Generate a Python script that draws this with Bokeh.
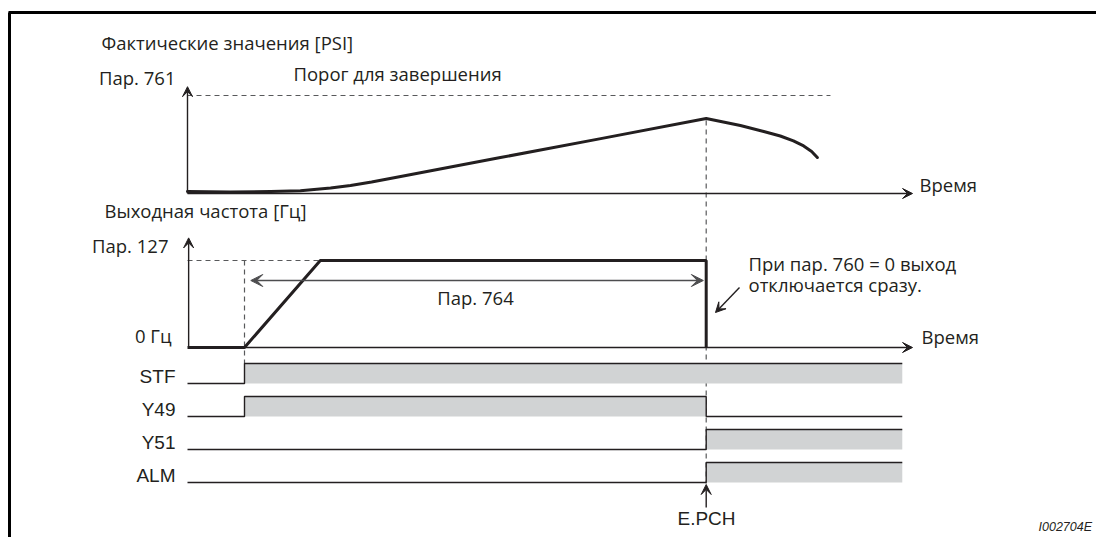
from bokeh.plotting import figure
from bokeh.models import Range1d, Arrow, VeeHead, Label
from bokeh.embed import file_html
from bokeh.resources import INLINE

# ---------------- data ----------------
# time in arbitrary units, 0 = origin of the time axes
t_run = 1.0            # STF on -> acceleration starts
t_accel_end = 2.33     # output frequency reaches Pr.127
t_trip = 9.1           # E.PCH trip
t_end = 12.54          # end of drawn signal traces
t_axis_end = 12.72     # tip of time axes
t_threshold_end = 11.28

# actual value (PSI, % of Pr.761)
psi_t = [0.0, 0.75, 1.46, 1.98, 2.51, 2.86, 3.23, 3.74, 5.49, 7.25, 9.1,
         9.70, 10.11, 10.40, 10.63, 10.81, 10.95, 11.05]
psi_v = [2.0, 1.5, 2.0, 2.9, 5.5, 8.2, 11.7, 17.3, 36.7, 56.0, 76.5,
         69.4, 63.3, 58.7, 53.6, 48.5, 42.9, 36.7]
psi_threshold = 100.0  # Pr.761

# output frequency (% of Pr.127)
freq_t = [0.0, t_run, t_accel_end, t_trip, t_trip]
freq_v = [0.0, 0.0, 100.0, 100.0, 0.0]
freq_max = 100.0

signal_names = ["STF", "Y49", "Y51", "ALM"]
signal_on = [t_run, t_run, t_trip, t_trip]
signal_off = [t_end, t_trip, t_end, t_end]

# ---------------- layout ----------------
W, H = 1096, 537
PX0, PY0 = 0, 0
PX1, PY1 = PX0 + W, PY0 + H

INK = "#231f20"
GREY = "#58595b"
FILL = "#d1d3d4"
RU = "Open Sans"
LAT = "Liberation Sans"
RU_SIZE = 18.5
LAT_SIZE = 19


def lin(v0, p0, v1, p1, a, b):
    k = (v1 - v0) / (p1 - p0)
    return Range1d(start=v0 + (a - p0) * k, end=v0 + (b - p0) * k)


p = figure(width=W, height=H, x_range=Range1d(PX0, PX1), y_range=Range1d(PY1, PY0),
           output_backend="svg", toolbar_location=None, min_border=0)
p.axis.visible = False
p.grid.visible = False
p.outline_line_color = None
p.background_fill_color = "white"
p.border_fill_color = "white"

p.extra_x_ranges = {"time": lin(0, 187, 1, 244, PX0, PX1)}
p.extra_y_ranges = {
    "psi": lin(0, 193, 100, 95, PY1, PY0),
    "freq": lin(0, 347, 100, 260, PY1, PY0),
}
sig_low = [383, 416, 449, 482]
for i, nm in enumerate(signal_names):
    p.extra_y_ranges["sig_" + nm] = lin(0, sig_low[i], 1, sig_low[i] - 20, PY1, PY0)

# frame
p.line([8, PX1], [12, 12], line_color="black", line_width=3)
p.line([9, 9], [12, PY1], line_color="black", line_width=3)


def arrow(x0, y0, x1, y1, size=10, color=INK, width=1.4, both=False, xr="default", yr="default"):
    head = lambda: VeeHead(size=size, fill_color=color, line_color=color, line_width=1)
    a = Arrow(end=head(), start=head() if both else None,
              x_start=x0, y_start=y0, x_end=x1, y_end=y1,
              line_color=color, line_width=width, x_range_name=xr, y_range_name=yr)
    p.add_layout(a)


DASH = dict(line_color=GREY, line_width=1.2, line_dash="5 4")

# guides (drawn first, under the data)
p.line([0, t_threshold_end], [psi_threshold, psi_threshold], x_range_name="time", y_range_name="psi", **DASH)
p.line([0, t_accel_end], [freq_max, freq_max], x_range_name="time", y_range_name="freq", **DASH)
p.line([t_run, t_run], [260, 363], x_range_name="time", **DASH)
p.line([t_trip, t_trip], [120, 483], x_range_name="time", **DASH)

# ---- top panel: actual values ----
arrow(0, 0, 0, 109, xr="time", yr="psi")
arrow(0, 0, t_axis_end, 0, xr="time", yr="psi")
p.line(psi_t, psi_v, x_range_name="time", y_range_name="psi", line_color=INK, line_width=3,
       line_join="round", line_cap="round")

# ---- middle panel: output frequency ----
arrow(0.02, 0, 0.02, 126, xr="time", yr="freq")
arrow(0.02, 0, t_axis_end, 0, xr="time", yr="freq")
p.line(freq_t, freq_v, x_range_name="time", y_range_name="freq", line_color=INK, line_width=3)

# Pr.764 double arrow
arrow(t_run + 0.11, 280, t_trip - 0.05, 280, size=12, color="#4d4d4f", width=1.6, both=True, xr="time")
arrow(739, 287, 715, 312, size=10, width=1.4)

# ---- signals ----
for i, nm in enumerate(signal_names):
    yr = "sig_" + nm
    on, off = signal_on[i], signal_off[i]
    xs = [0, on, on, off]
    ys = [0, 0, 1, 1]
    if off < t_end:
        xs += [off, t_end]
        ys += [0, 0]
    p.quad(left=[on], right=[off], bottom=[0], top=[1], x_range_name="time", y_range_name=yr,
           fill_color=FILL, line_color=None)
    p.line(xs, ys, x_range_name="time", y_range_name=yr, line_color=INK, line_width=1.4)

arrow(t_trip, 507, t_trip, 484, size=10, width=1.4, xr="time")


# ---- texts ----
def txt(x, y, s, font=RU, size=RU_SIZE, align="left", style="normal", color=INK):
    p.add_layout(Label(x=x, y=y, text=s, text_font=font, text_font_size=f"{size}px",
                       text_align=align, text_baseline="middle", text_color=color,
                       text_font_style=style))


txt(101, 42, "Фактические значения [PSI]")
txt(175, 77, "Пар. 761", align="right")
txt(293, 73, "Порог для завершения")
txt(919, 184, "Время")
txt(104, 210, "Выходная частота [Гц]")
txt(168, 245, "Пар. 127", align="right")
txt(171, 335, "0 Гц", align="right")
txt(475, 297, "Пар. 764", align="center")
txt(921, 336, "Время")
txt(748, 263, "При пар. 760 = 0 выход")
txt(748, 284, "отключается сразу.")
for i, nm in enumerate(signal_names):
    txt(175, sig_low[i] - 7, nm, font=LAT, size=LAT_SIZE, align="right")
txt(706, 518, "E.PCH", font=LAT, size=LAT_SIZE, align="center")
txt(1038, 526, "I002704E", font=LAT, size=12.5, style="italic")

open("out.html", "w").write(file_html(p, INLINE))
